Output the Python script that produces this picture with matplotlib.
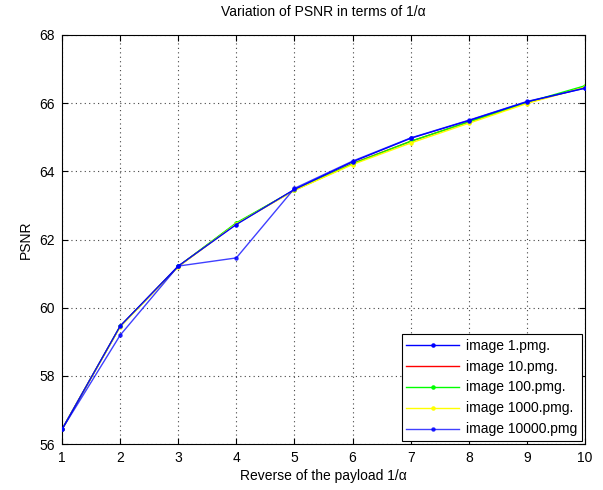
import matplotlib.pyplot as plt

plt.rcParams['font.family'] = ['Liberation Sans', 'DejaVu Sans']

# --- DATA ---
payload = [1, 2, 3, 4, 5, 6, 7, 8, 9, 10]
psnr_1 = [56.43, 59.46, 61.22, 62.44, 63.47, 64.28, 64.97, 65.49, 66.04, 66.44]
psnr_10 = [56.43, 59.45, 61.21, 62.47, 63.45, 64.23, 64.88, 65.45, 66.01, 66.47]
psnr_100 = [56.43, 59.45, 61.21, 62.49, 63.45, 64.22, 64.88, 65.45, 66.02, 66.51]
psnr_1000 = [56.43, 59.44, 61.2, 62.46, 63.44, 64.2, 64.83, 65.41, 65.99, 66.47]
psnr_10000 = [56.43, 59.19, 61.22, 61.46, 63.5, 64.3, 64.98, 65.5, 66.05, 66.44]

labels = ['image 1.pmg.', 'image 10.pmg.', 'image 100.pmg.',
          'image 1000.pmg.', 'image 10000.pmg']

# --- PLOTTING ---
fig = plt.figure(figsize=(6.03, 4.9), dpi=100)
ax = fig.add_axes([62 / 603, 1 - 444 / 490, (585 - 62) / 603, (444 - 35) / 490])

ms = 4.5
ax.plot(payload, psnr_1, color='#0000ff', marker='.', markersize=ms, lw=1, label=labels[0], zorder=4)
ax.plot(payload, psnr_10, color='#ff0000', lw=1, label=labels[1], zorder=2)
ax.plot(payload, psnr_100, color='#00ff00', marker='.', markersize=ms, lw=1, label=labels[2], zorder=2)
ax.plot(payload, psnr_1000, color='#ffff00', marker='.', markersize=ms, lw=1, label=labels[3], zorder=2)
ax.plot(payload, psnr_10000, color='#0000ff', marker='.', markersize=ms, lw=1, alpha=0.75,
        label=labels[4], zorder=5)

ax.set_xlim(1, 10)
ax.set_ylim(56, 68)
ax.set_xticks(range(1, 11))
ax.set_yticks(range(56, 69, 2))
ax.tick_params(direction='in', top=True, right=True, labelsize=10, length=4, pad=5)
ax.grid(True, linestyle=(0, (1, 3)), color='#444444', linewidth=0.8)
for s in ax.spines.values():
    s.set_linewidth(0.8)

ax.set_title('Variation of PSNR in terms of 1/\u03b1', fontsize=10, pad=14)
ax.set_xlabel('Reverse of the payload 1/\u03b1', fontsize=10, labelpad=3)
ax.set_ylabel('PSNR', fontsize=10, labelpad=5)

leg = ax.legend(loc='lower right', fontsize=10, fancybox=False, framealpha=1,
                edgecolor='black', borderaxespad=0.2, handlelength=3.8,
                labelspacing=0.5, borderpad=0.35, handletextpad=0.5)
leg.get_frame().set_linewidth(0.8)

fig.savefig('out.png', dpi=100)
